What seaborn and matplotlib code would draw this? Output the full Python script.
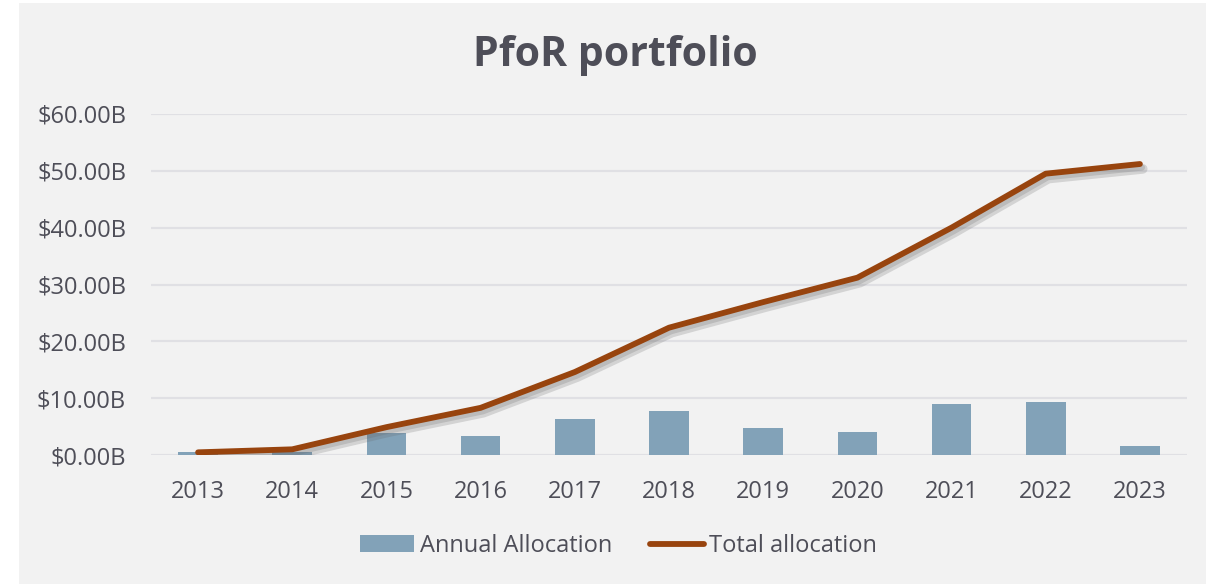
import matplotlib
matplotlib.use("Agg")
import matplotlib.pyplot as plt
import matplotlib.patheffects as pe
from matplotlib.patches import Rectangle
import seaborn as sns
import numpy as np
import pandas as pd

years = ["2013", "2014", "2015", "2016", "2017", "2018", "2019", "2020", "2021", "2022", "2023"]
annual = [0.5, 0.5, 3.9, 3.35, 6.3, 7.7, 4.75, 4.05, 9.0, 9.3, 1.6]
total = [0.47, 1.0, 4.9, 8.3, 14.6, 22.4, 26.9, 31.2, 40.0, 49.5, 51.2]
yticks = [0, 10, 20, 30, 40, 50, 60]

BG = "#F2F2F2"
TXT = "#4E4E58"
BAR = "#82A2B8"
LINE = "#98440E"

sns.set_theme(style="white")
plt.rcParams["font.family"] = ["Open Sans", "DejaVu Sans"]

fig = plt.figure(figsize=(12.06, 5.84), dpi=100)
fig.patch.set_facecolor("white")
fig.patches.append(Rectangle((19 / 1206, 0), 1 - 19 / 1206, 1 - 3 / 584,
                             transform=fig.transFigure, facecolor=BG,
                             edgecolor="none", zorder=-10))

ax = fig.add_axes([151 / 1206, (584 - 455) / 584, (1187 - 151) / 1206, (455 - 114) / 584])
ax.set_facecolor("none")

df = pd.DataFrame({"year": years, "annual": annual, "total": total})
sns.barplot(data=df, x="year", y="annual", color=BAR, saturation=1, width=0.42,
            linewidth=0, edgecolor="none",
            ax=ax, zorder=2, label="Annual Allocation")
sns.lineplot(x=np.arange(len(years)), y=total, color=LINE, linewidth=4.2,
             ax=ax, zorder=3, label="Total allocation")
line = ax.lines[-1]
line.set_solid_capstyle("round")
line.set_path_effects([pe.SimpleLineShadow(offset=(2, -3.5), shadow_color="#666666",
                                           alpha=0.22, linewidth=7),
                       pe.SimpleLineShadow(offset=(1.5, -2.5), shadow_color="#666666",
                                           alpha=0.22, linewidth=4.5),
                       pe.Normal()])

ax.set_xlim(-0.5, len(years) - 0.5)
ax.set_ylim(0, 60)
ax.set_yticks(yticks)
ax.set_yticklabels([f"${v:.2f}B" for v in yticks])
ax.yaxis.grid(True, color="#E0E0E4", linewidth=1.6, zorder=0)
ax.set_axisbelow(True)
for s in ax.spines.values():
    s.set_visible(False)
ax.tick_params(axis="both", length=0, labelsize=17, colors=TXT)
ax.tick_params(axis="y", pad=18)
ax.tick_params(axis="x", pad=18)
ax.set_xlabel("")
ax.set_ylabel("")

fig.text(615 / 1206, 1 - 55 / 584, "PfoR portfolio", ha="center", va="center",
         fontsize=29.5, fontweight="bold", color=TXT)

handles, labels = ax.get_legend_handles_labels()
order = [labels.index("Annual Allocation"), labels.index("Total allocation")]
leg = ax.legend([handles[i] for i in order], [labels[i] for i in order],
                loc="center", bbox_to_anchor=(618.5 / 1206, 1 - 546 / 584),
                bbox_transform=fig.transFigure, ncol=2, frameon=False,
                fontsize=17, labelcolor=TXT, handlelength=2.3, handletextpad=0.22,
                columnspacing=1.6, handleheight=0.7, borderpad=0, borderaxespad=0)
for h in leg.legend_handles:
    h.set_path_effects([])

fig.savefig("out.png", dpi=100, facecolor=fig.get_facecolor())
